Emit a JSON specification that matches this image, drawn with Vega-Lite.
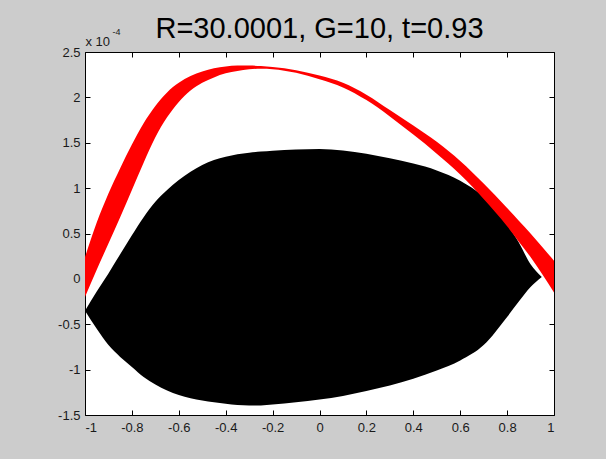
{
  "$schema": "https://vega.github.io/schema/vega-lite/v6.json",
  "width": 469,
  "height": 363,
  "autosize": {"type": "none"},
  "padding": {"left": 85, "top": 52, "right": 52, "bottom": 44},
  "background": "#cccccc",
  "config": {
    "view": {"stroke": "#000000", "strokeWidth": 1, "fill": "#ffffff"},
    "axis": {
      "grid": false,
      "domain": false,
      "labelFont": "Liberation Sans",
      "labelFontSize": 13,
      "labelColor": "#1a1a1a",
      "tickColor": "#000000",
      "tickSize": -5,
      "tickWidth": 1
    }
  },
  "title": {
    "text": "R=30.0001, G=10, t=0.93",
    "font": "Liberation Sans",
    "fontSize": 29,
    "fontWeight": "normal",
    "color": "#000000",
    "anchor": "middle",
    "baseline": "alphabetic",
    "offset": 12,
    "dy": 52
  },
  "datasets": {
    "blob": [
      {"x": -1, "ytop": -0.35, "ybot": -0.35},
      {"x": -0.95, "ytop": -0.14, "ybot": -0.55},
      {"x": -0.9, "ytop": 0.06, "ybot": -0.73},
      {"x": -0.85, "ytop": 0.27, "ybot": -0.86},
      {"x": -0.8, "ytop": 0.48, "ybot": -0.97},
      {"x": -0.75, "ytop": 0.68, "ybot": -1.08},
      {"x": -0.7, "ytop": 0.85, "ybot": -1.165},
      {"x": -0.65, "ytop": 0.98, "ybot": -1.23},
      {"x": -0.6, "ytop": 1.09, "ybot": -1.28},
      {"x": -0.55, "ytop": 1.18, "ybot": -1.315},
      {"x": -0.5, "ytop": 1.255, "ybot": -1.34},
      {"x": -0.45, "ytop": 1.31, "ybot": -1.36},
      {"x": -0.4, "ytop": 1.345, "ybot": -1.375},
      {"x": -0.35, "ytop": 1.372, "ybot": -1.39},
      {"x": -0.3, "ytop": 1.39, "ybot": -1.395},
      {"x": -0.25, "ytop": 1.403, "ybot": -1.395},
      {"x": -0.2, "ytop": 1.413, "ybot": -1.385},
      {"x": -0.1, "ytop": 1.425, "ybot": -1.36},
      {"x": 0, "ytop": 1.43, "ybot": -1.33},
      {"x": 0.1, "ytop": 1.415, "ybot": -1.29},
      {"x": 0.2, "ytop": 1.38, "ybot": -1.235},
      {"x": 0.3, "ytop": 1.33, "ybot": -1.175},
      {"x": 0.4, "ytop": 1.27, "ybot": -1.1},
      {"x": 0.5, "ytop": 1.195, "ybot": -1.01},
      {"x": 0.6, "ytop": 1.08, "ybot": -0.9},
      {"x": 0.7, "ytop": 0.9, "ybot": -0.73},
      {"x": 0.8, "ytop": 0.6, "ybot": -0.42},
      {"x": 0.85, "ytop": 0.4, "ybot": -0.25},
      {"x": 0.9, "ytop": 0.16, "ybot": -0.09},
      {"x": 0.948, "ytop": 0.02, "ybot": 0.02}
    ],
    "band": [
      {"x": -1, "upper": 0.24, "lower": -0.2},
      {"x": -0.95, "upper": 0.62, "lower": 0.1},
      {"x": -0.9, "upper": 0.94, "lower": 0.39},
      {"x": -0.85, "upper": 1.22, "lower": 0.68},
      {"x": -0.8, "upper": 1.48, "lower": 0.98},
      {"x": -0.75, "upper": 1.715, "lower": 1.28},
      {"x": -0.7, "upper": 1.905, "lower": 1.56},
      {"x": -0.65, "upper": 2.055, "lower": 1.78},
      {"x": -0.6, "upper": 2.16, "lower": 1.95},
      {"x": -0.55, "upper": 2.235, "lower": 2.075},
      {"x": -0.5, "upper": 2.285, "lower": 2.16},
      {"x": -0.45, "upper": 2.32, "lower": 2.22},
      {"x": -0.4, "upper": 2.34, "lower": 2.265},
      {"x": -0.35, "upper": 2.35, "lower": 2.29},
      {"x": -0.3, "upper": 2.35, "lower": 2.31},
      {"x": -0.25, "upper": 2.345, "lower": 2.315},
      {"x": -0.2, "upper": 2.335, "lower": 2.31},
      {"x": -0.1, "upper": 2.3, "lower": 2.27},
      {"x": 0, "upper": 2.24, "lower": 2.2},
      {"x": 0.1, "upper": 2.16, "lower": 2.11},
      {"x": 0.2, "upper": 2.03, "lower": 1.97},
      {"x": 0.3, "upper": 1.86, "lower": 1.79},
      {"x": 0.4, "upper": 1.69, "lower": 1.59},
      {"x": 0.5, "upper": 1.51, "lower": 1.38},
      {"x": 0.6, "upper": 1.3, "lower": 1.15},
      {"x": 0.7, "upper": 1.05, "lower": 0.88},
      {"x": 0.8, "upper": 0.78, "lower": 0.58},
      {"x": 0.85, "upper": 0.64, "lower": 0.41},
      {"x": 0.9, "upper": 0.5, "lower": 0.24},
      {"x": 0.95, "upper": 0.35, "lower": 0.05},
      {"x": 1, "upper": 0.2, "lower": -0.15}
    ]
  },
  "layer": [
    {
      "data": {"name": "blob"},
      "mark": {"type": "area", "color": "#000000", "interpolate": "monotone", "clip": true},
      "encoding": {
        "x": {
          "field": "x", "type": "quantitative",
          "scale": {"domain": [-1, 1], "nice": false, "zero": false},
          "axis": {
            "orient": "bottom",
            "values": [-1, -0.8, -0.6, -0.4, -0.2, 0, 0.2, 0.4, 0.6, 0.8, 1],
            "labelExpr": "'' + datum.value",
            "labelPadding": 11,
            "title": null
          }
        },
        "y": {
          "field": "ytop", "type": "quantitative",
          "scale": {"domain": [-1.5, 2.5], "nice": false, "zero": false},
          "axis": {
            "orient": "left",
            "values": [-1.5, -1, -0.5, 0, 0.5, 1, 1.5, 2, 2.5],
            "labelExpr": "'' + datum.value",
            "labelPadding": 10,
            "title": "x 10",
            "titleAngle": 0,
            "titleX": 0,
            "titleY": -7,
            "titleAlign": "left",
            "titleBaseline": "alphabetic",
            "titleFont": "Liberation Sans",
            "titleFontSize": 13,
            "titleFontWeight": "normal",
            "titleColor": "#1a1a1a"
          }
        },
        "y2": {"field": "ybot"}
      }
    },
    {
      "data": {"name": "band"},
      "mark": {"type": "area", "color": "#ff0000", "interpolate": "monotone", "clip": true},
      "encoding": {
        "x": {"field": "x", "type": "quantitative", "axis": null},
        "y": {"field": "upper", "type": "quantitative", "axis": null},
        "y2": {"field": "lower"}
      }
    },
    {
      "data": {"name": "band"},
      "mark": {"type": "point", "opacity": 0},
      "encoding": {
        "x": {
          "field": "x", "type": "quantitative",
          "axis": {
            "orient": "top",
            "values": [-1, -0.8, -0.6, -0.4, -0.2, 0, 0.2, 0.4, 0.6, 0.8, 1],
            "labels": false,
            "title": null
          }
        },
        "y": {
          "field": "upper", "type": "quantitative",
          "axis": {
            "orient": "right",
            "values": [-1.5, -1, -0.5, 0, 0.5, 1, 1.5, 2, 2.5],
            "labels": false,
            "title": "-4",
            "titleAngle": 0,
            "titleX": -442,
            "titleY": -18,
            "titleAlign": "left",
            "titleBaseline": "alphabetic",
            "titleFont": "Liberation Sans",
            "titleFontSize": 9,
            "titleFontWeight": "normal",
            "titleColor": "#1a1a1a"
          }
        }
      }
    }
  ],
  "resolve": {"axis": {"x": "independent", "y": "independent"}}
}
